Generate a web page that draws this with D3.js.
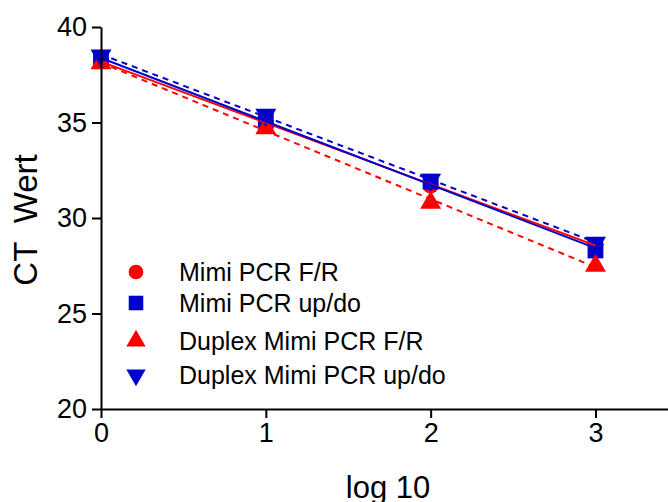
<!DOCTYPE html>
<html>
<head>
<meta charset="utf-8">
<script src="https://cdn.jsdelivr.net/npm/d3@7"></script>
<style>
  body { margin: 0; background: #fff; }
  svg text { font-family: "Liberation Sans", Arial, sans-serif; fill: #000; }
</style>
</head>
<body>
<div id="chart"></div>
<script>
// values
var logDilution = [0, 1, 2, 3];
var mimiFR = [38.2, 35.0, 31.7, 28.6];
var mimiUD = [38.3, 35.1, 31.9, 28.3];
var duplexFR = [38.1, 34.7, 30.8, 27.5];
var duplexUD = [38.5, 35.4, 32.0, 28.7];
var yTicks = [20, 25, 30, 35, 40];
var xTicks = [0, 1, 2, 3];
var seriesNames = ["Mimi PCR F/R", "Mimi PCR up/do", "Duplex Mimi PCR F/R", "Duplex Mimi PCR up/do"];

var series = [
  { name: seriesNames[0], values: mimiFR, color: "#ff0000", symbol: d3.symbolCircle, size: 200, rot: 0, dash: null },
  { name: seriesNames[1], values: mimiUD, color: "#0000cc", symbol: d3.symbolSquare, size: 250, rot: 0, dash: null },
  { name: seriesNames[2], values: duplexFR, color: "#ff0000", symbol: d3.symbolTriangle, size: 190, rot: 0, dash: "6,5" },
  { name: seriesNames[3], values: duplexUD, color: "#0000cc", symbol: d3.symbolTriangle, size: 190, rot: 180, dash: "6,5" }
];

var width = 668, height = 502;
var plotLeft = 101, plotTop = 27, plotBottom = 409;

var svg = d3.select("#chart").append("svg")
    .attr("width", width)
    .attr("height", height);

var x = d3.scaleLinear().domain([0, 3.44]).range([plotLeft, width]);
var y = d3.scaleLinear().domain([20, 40]).range([plotBottom, plotTop]);

// least squares fit for each series
function fit(vals) {
  var mx = d3.mean(logDilution), my = d3.mean(vals);
  var num = 0, den = 0;
  logDilution.forEach(function(xv, i) {
    num += (xv - mx) * (vals[i] - my);
    den += (xv - mx) * (xv - mx);
  });
  var slope = num / den;
  return { slope: slope, icept: my - slope * mx };
}

// markers
series.forEach(function(s) {
  svg.append("g").selectAll("path")
    .data(s.values)
    .enter().append("path")
      .attr("d", d3.symbol().type(s.symbol).size(s.size))
      .attr("transform", function(d, i) {
        return "translate(" + x(logDilution[i]) + "," + y(d) + ") rotate(" + s.rot + ")";
      })
      .style("fill", s.color);
});

// fit lines
series.forEach(function(s) {
  var f = fit(s.values);
  svg.append("line")
    .attr("x1", x(0)).attr("y1", y(f.icept))
    .attr("x2", x(3)).attr("y2", y(f.icept + 3 * f.slope))
    .style("stroke", s.color)
    .style("stroke-width", 2)
    .style("stroke-dasharray", s.dash);
});

// axes
var yAxis = svg.append("g")
    .attr("transform", "translate(" + plotLeft + ",0)")
    .call(d3.axisLeft(y).tickValues(yTicks).tickFormat(d3.format("d")).tickSize(9).tickSizeOuter(0).tickPadding(5));
var xAxis = svg.append("g")
    .attr("transform", "translate(0," + plotBottom + ")")
    .call(d3.axisBottom(x).tickValues(xTicks).tickFormat(d3.format("d")).tickSize(9).tickSizeOuter(0).tickPadding(5));

[yAxis, xAxis].forEach(function(a) {
  a.select(".domain").style("stroke", "#000").style("stroke-width", 2);
  a.selectAll(".tick line").style("stroke", "#000").style("stroke-width", 2);
  a.selectAll(".tick text").style("font-size", "27px").style("font-family", "Liberation Sans, Arial, sans-serif");
});

// axis titles
svg.append("text")
    .attr("x", 388).attr("y", 498)
    .attr("text-anchor", "middle")
    .style("font-size", "31px")
    .text("log 10");

svg.append("text")
    .attr("transform", "translate(37,220) rotate(-90)")
    .attr("text-anchor", "middle")
    .style("font-size", "33px")
    .text("CT\u00a0 Wert");

// legend
var legendY = [272, 303, 341, 375];
var legend = svg.append("g");
series.forEach(function(s, i) {
  legend.append("path")
    .attr("d", d3.symbol().type(s.symbol).size(s.size * 0.85))
    .attr("transform", "translate(136," + legendY[i] + ") rotate(" + s.rot + ")")
    .style("fill", s.color);
  legend.append("text")
    .attr("x", 179).attr("y", legendY[i] + 9)
    .style("font-size", "25px")
    .text(s.name);
});
</script>
</body>
</html>
